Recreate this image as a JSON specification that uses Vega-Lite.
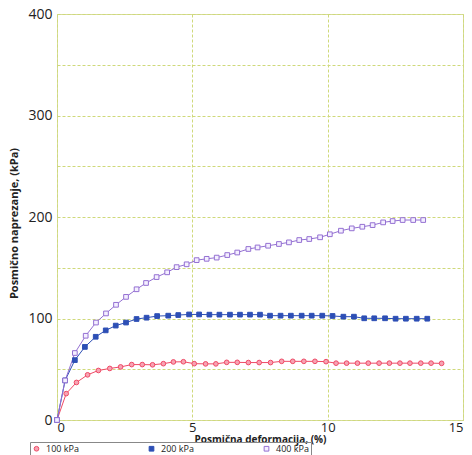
{
  "$schema": "https://vega.github.io/schema/vega-lite/v6.json",
  "width": 406,
  "height": 406,
  "autosize": {"type": "none"},
  "padding": {"left": 57, "top": 14, "right": 9, "bottom": 35},
  "background": "white",
  "config": {
    "view": {"stroke": "#d6dc9a", "strokeWidth": 1},
    "font": "Open Sans"
  },
  "data": {"values": [
    {"s": "100 kPa", "x": 0, "y": 0}, {"s": "100 kPa", "x": 0.34, "y": 26}, {"s": "100 kPa", "x": 0.72, "y": 37}, {"s": "100 kPa", "x": 1.13, "y": 44.5}, {"s": "100 kPa", "x": 1.53, "y": 48.8}, {"s": "100 kPa", "x": 1.95, "y": 50.8}, {"s": "100 kPa", "x": 2.35, "y": 52.3}, {"s": "100 kPa", "x": 2.76, "y": 54.6}, {"s": "100 kPa", "x": 3.15, "y": 54.6}, {"s": "100 kPa", "x": 3.53, "y": 54.4}, {"s": "100 kPa", "x": 3.93, "y": 55.5}, {"s": "100 kPa", "x": 4.3, "y": 57.2}, {"s": "100 kPa", "x": 4.67, "y": 57.4}, {"s": "100 kPa", "x": 5.07, "y": 55.5}, {"s": "100 kPa", "x": 5.49, "y": 55.3}, {"s": "100 kPa", "x": 5.87, "y": 55.3}, {"s": "100 kPa", "x": 6.27, "y": 56.8}, {"s": "100 kPa", "x": 6.66, "y": 56.8}, {"s": "100 kPa", "x": 7.07, "y": 56.6}, {"s": "100 kPa", "x": 7.47, "y": 56.6}, {"s": "100 kPa", "x": 7.89, "y": 56.6}, {"s": "100 kPa", "x": 8.3, "y": 57.8}, {"s": "100 kPa", "x": 8.71, "y": 57.8}, {"s": "100 kPa", "x": 9.12, "y": 57.8}, {"s": "100 kPa", "x": 9.53, "y": 57.8}, {"s": "100 kPa", "x": 9.94, "y": 57.5}, {"s": "100 kPa", "x": 10.31, "y": 56}, {"s": "100 kPa", "x": 10.7, "y": 56}, {"s": "100 kPa", "x": 11.1, "y": 56}, {"s": "100 kPa", "x": 11.5, "y": 56}, {"s": "100 kPa", "x": 11.9, "y": 56}, {"s": "100 kPa", "x": 12.28, "y": 56}, {"s": "100 kPa", "x": 12.67, "y": 56}, {"s": "100 kPa", "x": 13.04, "y": 56}, {"s": "100 kPa", "x": 13.44, "y": 56}, {"s": "100 kPa", "x": 13.82, "y": 56}, {"s": "100 kPa", "x": 14.21, "y": 55.8},
    {"s": "200 kPa", "x": 0, "y": 0}, {"s": "200 kPa", "x": 0.3, "y": 39}, {"s": "200 kPa", "x": 0.66, "y": 59}, {"s": "200 kPa", "x": 1.03, "y": 72}, {"s": "200 kPa", "x": 1.43, "y": 82}, {"s": "200 kPa", "x": 1.8, "y": 88.3}, {"s": "200 kPa", "x": 2.17, "y": 93}, {"s": "200 kPa", "x": 2.55, "y": 96}, {"s": "200 kPa", "x": 2.94, "y": 99.5}, {"s": "200 kPa", "x": 3.31, "y": 100.8}, {"s": "200 kPa", "x": 3.7, "y": 102.4}, {"s": "200 kPa", "x": 4.11, "y": 102.8}, {"s": "200 kPa", "x": 4.48, "y": 103.4}, {"s": "200 kPa", "x": 4.88, "y": 104}, {"s": "200 kPa", "x": 5.25, "y": 104}, {"s": "200 kPa", "x": 5.63, "y": 103.8}, {"s": "200 kPa", "x": 6.0, "y": 103.8}, {"s": "200 kPa", "x": 6.39, "y": 103.8}, {"s": "200 kPa", "x": 6.76, "y": 103.8}, {"s": "200 kPa", "x": 7.13, "y": 103.8}, {"s": "200 kPa", "x": 7.5, "y": 103.8}, {"s": "200 kPa", "x": 7.87, "y": 102.8}, {"s": "200 kPa", "x": 8.26, "y": 102.8}, {"s": "200 kPa", "x": 8.64, "y": 102.8}, {"s": "200 kPa", "x": 9.04, "y": 102.8}, {"s": "200 kPa", "x": 9.41, "y": 102.8}, {"s": "200 kPa", "x": 9.8, "y": 102.8}, {"s": "200 kPa", "x": 10.18, "y": 102.5}, {"s": "200 kPa", "x": 10.58, "y": 101.8}, {"s": "200 kPa", "x": 10.97, "y": 101.8}, {"s": "200 kPa", "x": 11.35, "y": 100.2}, {"s": "200 kPa", "x": 11.72, "y": 100.2}, {"s": "200 kPa", "x": 12.12, "y": 100.2}, {"s": "200 kPa", "x": 12.51, "y": 99.8}, {"s": "200 kPa", "x": 12.89, "y": 99.8}, {"s": "200 kPa", "x": 13.29, "y": 99.8}, {"s": "200 kPa", "x": 13.68, "y": 99.8},
    {"s": "400 kPa", "x": 0, "y": 0}, {"s": "400 kPa", "x": 0.3, "y": 39}, {"s": "400 kPa", "x": 0.66, "y": 66}, {"s": "400 kPa", "x": 1.06, "y": 83}, {"s": "400 kPa", "x": 1.44, "y": 96}, {"s": "400 kPa", "x": 1.81, "y": 105}, {"s": "400 kPa", "x": 2.18, "y": 113.5}, {"s": "400 kPa", "x": 2.55, "y": 121.3}, {"s": "400 kPa", "x": 2.94, "y": 128.8}, {"s": "400 kPa", "x": 3.29, "y": 135}, {"s": "400 kPa", "x": 3.68, "y": 140.8}, {"s": "400 kPa", "x": 4.07, "y": 145.5}, {"s": "400 kPa", "x": 4.42, "y": 150.6}, {"s": "400 kPa", "x": 4.79, "y": 153.4}, {"s": "400 kPa", "x": 5.16, "y": 157.5}, {"s": "400 kPa", "x": 5.53, "y": 158.8}, {"s": "400 kPa", "x": 5.9, "y": 160}, {"s": "400 kPa", "x": 6.29, "y": 162.5}, {"s": "400 kPa", "x": 6.66, "y": 165}, {"s": "400 kPa", "x": 7.07, "y": 168.5}, {"s": "400 kPa", "x": 7.41, "y": 170}, {"s": "400 kPa", "x": 7.8, "y": 171.7}, {"s": "400 kPa", "x": 8.2, "y": 173.4}, {"s": "400 kPa", "x": 8.57, "y": 175}, {"s": "400 kPa", "x": 8.95, "y": 177.3}, {"s": "400 kPa", "x": 9.32, "y": 178.3}, {"s": "400 kPa", "x": 9.72, "y": 180}, {"s": "400 kPa", "x": 10.08, "y": 183}, {"s": "400 kPa", "x": 10.49, "y": 186.5}, {"s": "400 kPa", "x": 10.89, "y": 188.8}, {"s": "400 kPa", "x": 11.28, "y": 190.4}, {"s": "400 kPa", "x": 11.66, "y": 192}, {"s": "400 kPa", "x": 12.05, "y": 194.7}, {"s": "400 kPa", "x": 12.4, "y": 196}, {"s": "400 kPa", "x": 12.77, "y": 197}, {"s": "400 kPa", "x": 13.16, "y": 197}, {"s": "400 kPa", "x": 13.53, "y": 197}
  ]},
  "encoding": {
    "x": {
      "field": "x", "type": "quantitative",
      "scale": {"domain": [0, 15], "nice": false, "zero": false},
      "axis": {
        "values": [0, 5, 10, 15], "title": "Posmična deformacija, (%)",
        "grid": true, "gridColor": "#cfd97a", "gridDash": [3, 2], "gridWidth": 1,
        "domain": false, "ticks": false, "labelFontSize": 13, "labelColor": "#222", "labelPadding": 1,
        "labelFont": "Open Sans",
        "titleFont": "Open Sans", "titleFontSize": 10, "titleFontWeight": "bold", "titleColor": "#222",
        "titleX": 203, "titleY": 22, "titleAlign": "center", "titleBaseline": "alphabetic"
      }
    },
    "y": {
      "field": "y", "type": "quantitative",
      "scale": {"domain": [0, 400], "nice": false},
      "axis": {
        "values": [0, 50, 100, 150, 200, 250, 300, 350, 400],
        "labelExpr": "datum.value % 100 === 0 ? datum.label : ''",
        "title": "Posmično naprezanje, (kPa)",
        "grid": true, "gridColor": "#cfd97a", "gridDash": [3, 2], "gridWidth": 1,
        "domain": false, "ticks": false, "labelFontSize": 14, "labelColor": "#222", "labelPadding": 5,
        "labelFont": "Open Sans",
        "titleFont": "Open Sans", "titleFontSize": 11, "titleFontWeight": "bold", "titleColor": "#222",
        "titleX": -43, "titleY": 209, "titleAngle": -90, "titleAlign": "center", "titleBaseline": "middle"
      }
    }
  },
  "layer": [
    {
      "mark": {"type": "line", "strokeWidth": 1},
      "encoding": {
        "stroke": {
          "field": "s", "type": "nominal",
          "scale": {"domain": ["100 kPa", "200 kPa", "400 kPa"], "range": ["#ef4a66", "#2d4fb5", "#9470d2"]}
        }
      }
    },
    {
      "mark": {"type": "point", "size": 22, "strokeWidth": 1, "opacity": 1},
      "encoding": {
        "shape": {
          "field": "s", "type": "nominal",
          "scale": {"domain": ["100 kPa", "200 kPa", "400 kPa"], "range": ["circle", "square", "square"]},
          "legend": {
            "orient": "none", "legendX": -27, "legendY": 428, "direction": "horizontal",
            "title": null, "columnPadding": 68, "labelFontSize": 9, "labelFont": "Open Sans", "labelColor": "#222",
            "symbolSize": 22, "symbolStrokeWidth": 1, "labelOffset": 5,
            "strokeColor": "#888", "padding": 2
          }
        },
        "stroke": {
          "field": "s", "type": "nominal",
          "scale": {"domain": ["100 kPa", "200 kPa", "400 kPa"], "range": ["#ef4a66", "#2d4fb5", "#9470d2"]}
        },
        "fill": {
          "field": "s", "type": "nominal",
          "scale": {"domain": ["100 kPa", "200 kPa", "400 kPa"], "range": ["#f7a3b3", "#2d4fb5", "#f4efff"]}
        }
      }
    }
  ]
}
